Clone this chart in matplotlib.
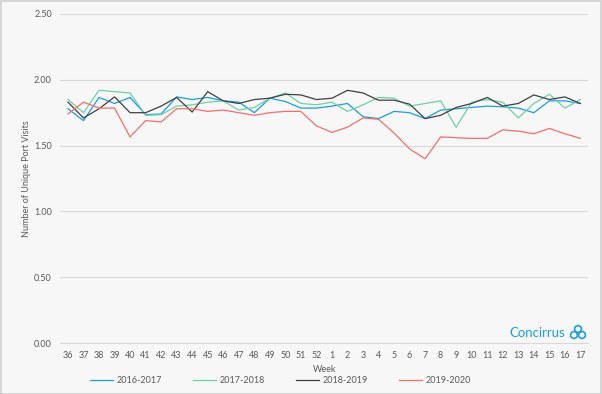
import matplotlib
matplotlib.use("Agg")
import matplotlib.pyplot as plt
from matplotlib.patches import Rectangle, Circle

weeks = [str(w) for w in range(36, 53)] + [str(w) for w in range(1, 18)]

s2016 = [1.78, 1.69, 1.866, 1.82, 1.866, 1.735, 1.74, 1.87, 1.85, 1.866, 1.84, 1.83,
         1.75, 1.86, 1.835, 1.785, 1.785, 1.80, 1.82, 1.72, 1.705, 1.76, 1.75, 1.705,
         1.77, 1.78, 1.79, 1.80, 1.795, 1.785, 1.75, 1.84, 1.84, 1.82]
s2017 = [1.85, 1.75, 1.92, 1.91, 1.90, 1.73, 1.735, 1.80, 1.81, 1.83, 1.84, 1.77,
         1.79, 1.86, 1.90, 1.82, 1.81, 1.83, 1.76, 1.81, 1.866, 1.86, 1.80, 1.82,
         1.84, 1.64, 1.83, 1.85, 1.83, 1.71, 1.82, 1.89, 1.785, 1.85]
s2018 = [1.83, 1.71, 1.78, 1.87, 1.75, 1.75, 1.80, 1.866, 1.755, 1.91, 1.84, 1.82,
         1.85, 1.86, 1.89, 1.885, 1.85, 1.86, 1.92, 1.90, 1.845, 1.845, 1.815, 1.705,
         1.73, 1.79, 1.82, 1.866, 1.80, 1.82, 1.885, 1.85, 1.87, 1.82]
s2019 = [1.74, 1.83, 1.785, 1.785, 1.566, 1.69, 1.68, 1.78, 1.78, 1.76, 1.77, 1.75,
         1.73, 1.75, 1.76, 1.76, 1.65, 1.60, 1.64, 1.71, 1.70, 1.596, 1.475, 1.40,
         1.566, 1.56, 1.555, 1.555, 1.62, 1.61, 1.59, 1.63, 1.59, 1.555]

series = [("2016-2017", s2016, "#1b9de2"),
          ("2017-2018", s2017, "#6dd0a6"),
          ("2018-2019", s2018, "#404040"),
          ("2019-2020", s2019, "#f46e6e")]

plt.rcParams['font.family'] = ['Lato', 'DejaVu Sans']
txt = "#595959"

fig = plt.figure(figsize=(6.02, 3.94), dpi=100, facecolor="#f7f7f7")
ax = fig.add_axes([0.100, 0.1294, 0.877, 0.8351])
ax.set_facecolor("#f7f7f7")

x = list(range(len(weeks)))
for name, vals, col in series:
    ax.plot(x, vals, color=col, lw=0.9, label=name)

ax.set_xlim(-0.5, len(weeks) - 0.5)
ax.set_ylim(0, 2.5)
ax.set_yticks([0, 0.5, 1.0, 1.5, 2.0, 2.5])
ax.set_yticklabels(["%.2f" % v for v in [0, 0.5, 1.0, 1.5, 2.0, 2.5]])
ax.set_xticks(x)
ax.set_xticklabels(weeks)
ax.tick_params(length=0, labelsize=6.5, colors=txt)
ax.tick_params(axis='y', pad=6)
ax.tick_params(axis='x', pad=6)
ax.grid(axis='y', color="#d9d9d9", lw=0.8)
for side in ["left", "right", "top"]:
    ax.spines[side].set_visible(False)
ax.spines["bottom"].set_color("#d9d9d9")
ax.set_axisbelow(True)

ax.set_ylabel("Number of Unique Port Visits", fontsize=6.5, color=txt)
ax.yaxis.set_label_coords(-0.055, 0.5)
ax.set_xlabel("Week", fontsize=6.5, color=txt, labelpad=3)

leg = fig.legend(loc="center", bbox_to_anchor=(0.466, 0.033), ncol=4, frameon=False,
                 fontsize=6.5, handlelength=2.5, columnspacing=3.5, handletextpad=0.4)
for t in leg.get_texts():
    t.set_color(txt)

# logo
fig.text(537 / 602, 1 - 333 / 394, "Concirrus", color="#1b9de2", fontsize=9.5,
         ha="center", va="center")
for cx, cy in [(574, 335), (582, 335), (578, 329)]:
    fig.add_artist(Circle((cx, 394 - cy), 3.4, transform=None, fill=False,
                          ec="#1b9de2", lw=1.2))

fig.add_artist(Rectangle((0.001, 0.001), 0.997, 0.997, transform=fig.transFigure,
                         fill=False, ec="#d0d0d0", lw=1.2))

fig.savefig("out.png", dpi=100, facecolor=fig.get_facecolor())
